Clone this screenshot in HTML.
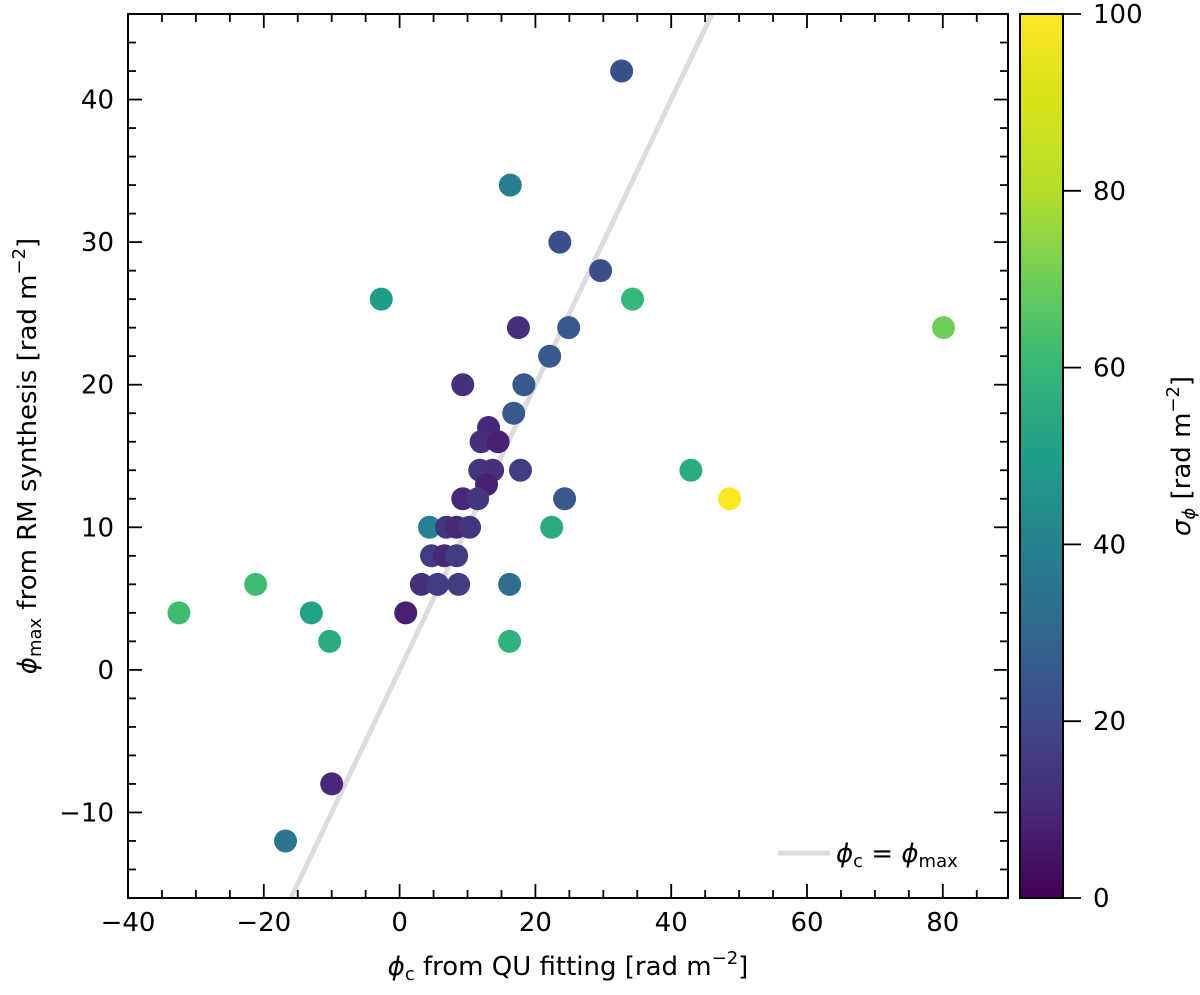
<!DOCTYPE html>
<html><head><meta charset="utf-8"><style>
body{margin:0;background:#fff}
svg text{font-family:"DejaVu Sans","Liberation Sans",sans-serif;fill:#000}
</style></head><body>
<svg id="c" width="1200" height="990" xmlns="http://www.w3.org/2000/svg">
<defs>
<linearGradient id="vir" x1="0" y1="1" x2="0" y2="0">
<stop offset="0" stop-color="#440154"/><stop offset="0.1" stop-color="#482878"/><stop offset="0.2" stop-color="#3e4989"/><stop offset="0.3" stop-color="#31688e"/><stop offset="0.4" stop-color="#26828e"/><stop offset="0.5" stop-color="#1f9e89"/><stop offset="0.6" stop-color="#35b779"/><stop offset="0.7" stop-color="#6ece58"/><stop offset="0.8" stop-color="#b5de2b"/><stop offset="0.9" stop-color="#d8e219"/><stop offset="1" stop-color="#fde725"/>
</linearGradient>
<clipPath id="pc"><rect x="128" y="14" width="880" height="884"/></clipPath>
</defs>
<g id="plot"></g>
</svg>
<script>
const xVals=[32.7,16.3,23.6,29.6,-2.7,34.3,17.5,24.9,80.1,22.1,18.3,9.3,16.8,13.1,12,14.5,11.8,13.7,17.8,12.8,9.3,11.5,24.3,4.4,6.9,8.4,10.3,22.4,4.7,6.6,8.4,3.2,5.6,8.7,16.2,0.9,16.2,42.9,48.6,-21.2,-32.5,-13,-10.3,-10,-16.8];
const yVals=[42,34,30,28,26,26,24,24,24,22,20,20,18,17,16,16,14,14,14,13,12,12,12,10,10,10,10,10,8,8,8,6,6,6,6,4,2,14,12,6,4,4,2,-8,-12];
const sigmaVals=[22,38,22,22,50,60,12,25,70,25,25,12,25,10,12,8,14,12,16,8,10,14,25,40,14,10,14,55,16,10,16,12,16,16,32,8,58,55,100,62,62,52,55,10,35];
const xTicks=[-40,-20,0,20,40,60,80];
const yTicks=[-10,0,10,20,30,40];
const cTicks=[0,20,40,60,80,100];
const X0=128,X1=1008,Y0=14,Y1=898;
const xmin=-40,xmax=89.6,ymin=-16,ymax=46;
const sx=v=>X0+(v-xmin)/(xmax-xmin)*(X1-X0);
const sy=v=>Y1-(v-ymin)/(ymax-ymin)*(Y1-Y0);
const CB0=1020,CB1=1063;
const sc=v=>Y1-v/100*(Y1-Y0);
const vir=[[68,1,84],[72,40,120],[62,73,137],[49,104,142],[38,130,142],[31,158,137],[53,183,121],[110,206,88],[181,222,43],[216,226,25],[253,231,37]];
function col(v){let t=Math.max(0,Math.min(1,v/100))*10;let i=Math.min(9,Math.floor(t)),f=t-i;const a=vir[i],b=vir[i+1];return `rgb(${a.map((c,k)=>Math.round(c+(b[k]-c)*f)).join(',')})`;}
const NS="http://www.w3.org/2000/svg";
const g=document.getElementById('plot');
function el(t,a,p){const e=document.createElementNS(NS,t);for(const k in a)e.setAttribute(k,a[k]);(p||g).appendChild(e);return e;}
const ln=el('line',{x1:sx(ymin),y1:sy(ymin),x2:sx(ymax),y2:sy(ymax),stroke:'#dcdcdc','stroke-width':5,'clip-path':'url(#pc)'});


xVals.forEach((x,i)=>{const c=el('circle',{cx:sx(x),cy:sy(yVals[i]),r:11.5,fill:col(sigmaVals[i])});

});
const fr=el('rect',{x:X0,y:Y0,width:X1-X0,height:Y1-Y0,fill:'none',stroke:'#000','stroke-width':2});


for(let v=-40;v<=90;v+=5){const maj=v%20===0,L=maj?14:8,x=sx(v);if(x>X1)continue;
el('line',{x1:x,y1:Y1,x2:x,y2:Y1-L,stroke:'#000','stroke-width':1.8});el('line',{x1:x,y1:Y0,x2:x,y2:Y0+L,stroke:'#000','stroke-width':1.8});}
xTicks.forEach(v=>{const t=el('text',{x:sx(v),y:Y1+33,'font-size':26,'text-anchor':'middle'});t.textContent=v<0?'\u2212'+(-v):v;

});
for(let v=-16;v<=46;v+=2){const maj=v%10===0,L=maj?14:8,y=sy(v);
el('line',{x1:X0,y1:y,x2:X0+L,y2:y,stroke:'#000','stroke-width':1.8});el('line',{x1:X1,y1:y,x2:X1-L,y2:y,stroke:'#000','stroke-width':1.8});}
yTicks.forEach(v=>{const t=el('text',{x:X0-14,y:sy(v)+9,'font-size':26,'text-anchor':'end'});t.textContent=v<0?'\u2212'+(-v):v;

});
const cb=el('rect',{x:CB0,y:Y0,width:CB1-CB0,height:Y1-Y0,fill:'url(#vir)',stroke:'#000','stroke-width':2});


cTicks.forEach(v=>{el('line',{x1:CB1,y1:sc(v),x2:CB1+18,y2:sc(v),stroke:'#000','stroke-width':1.8});
const t=el('text',{x:CB1+30,y:sc(v)+9,'font-size':26});t.textContent=v;

});
</script>
<svg width="1200" height="990" style="position:absolute;left:0;top:0" xmlns="http://www.w3.org/2000/svg">
<text x="568" y="975" font-size="26" text-anchor="middle" font-family="DejaVu Sans,sans-serif"><tspan font-style="italic">ϕ</tspan><tspan font-size="18" dy="5">c</tspan><tspan dy="-5"> from QU fitting  [rad m</tspan><tspan font-size="18" dy="-11">−2</tspan><tspan dy="11">]</tspan></text>
<text transform="translate(36,456) rotate(-90)" font-size="26" text-anchor="middle" font-family="DejaVu Sans,sans-serif"><tspan font-style="italic">ϕ</tspan><tspan font-size="18" dy="5">max</tspan><tspan dy="-5"> from RM synthesis  [rad m</tspan><tspan font-size="18" dy="-11">−2</tspan><tspan dy="11">]</tspan></text>
<text transform="translate(1190,456) rotate(-90)" font-size="26" text-anchor="middle" font-family="DejaVu Sans,sans-serif"><tspan font-style="italic">σ</tspan><tspan font-size="18" dy="5" font-style="italic">ϕ</tspan><tspan dy="-5">   [rad m</tspan><tspan font-size="18" dy="-11">−2</tspan><tspan dy="11">]</tspan></text>
<g>
<line x1="778" y1="853" x2="830" y2="853" stroke="#dcdcdc" stroke-width="5"/>
<text x="836" y="862" font-size="26" font-family="DejaVu Sans,sans-serif"><tspan font-style="italic">ϕ</tspan><tspan font-size="18" dy="5">c</tspan><tspan dy="-5"> = </tspan><tspan font-style="italic">ϕ</tspan><tspan font-size="18" dy="5">max</tspan></text>
</g>
</svg>
</body></html>
